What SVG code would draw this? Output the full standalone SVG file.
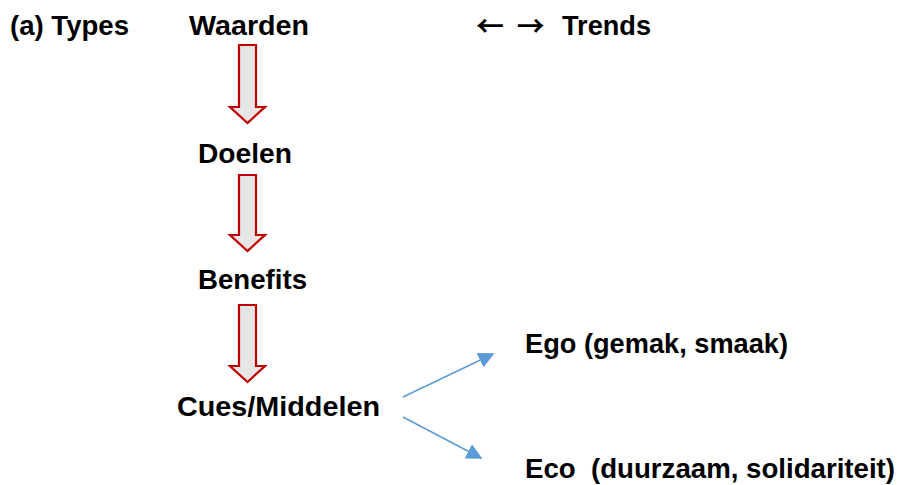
<svg xmlns="http://www.w3.org/2000/svg" width="899" height="485" viewBox="0 0 899 485">
<defs>
<style>
text{font-family:"Liberation Sans",Arial,sans-serif;font-weight:bold;font-size:27px;fill:#000}
text.arr{font-family:"Noto Sans CJK SC",sans-serif;font-size:28px;font-weight:bold}
.bigarrow{fill:#e6e6e6;stroke:#c00000;stroke-width:2.2;stroke-linejoin:miter}
.conn{stroke:#5b9bd5;stroke-width:1.5;fill:none}
</style>
<marker id="ahb" viewBox="0 0 10 10" refX="9" refY="5" markerWidth="16" markerHeight="16" markerUnits="userSpaceOnUse" orient="auto">
<path d="M0,0 L10,5 L0,10 z" fill="#5b9bd5"/>
</marker>
</defs>
<rect width="899" height="485" fill="#fff"/>
<g id="title"><text x="10" y="35" textLength="119" lengthAdjust="spacingAndGlyphs">(a) Types</text></g>
<g id="waarden"><text x="189" y="35" textLength="120" lengthAdjust="spacingAndGlyphs">Waarden</text></g>
<g id="trends"><text class="arr" x="476" y="37" xml:space="preserve">←  →</text><text x="562" y="35" textLength="89" lengthAdjust="spacingAndGlyphs">Trends</text></g>
<g id="doelen"><text x="198" y="163" textLength="94" lengthAdjust="spacingAndGlyphs">Doelen</text></g>
<g id="benefits"><text x="198" y="289" textLength="109" lengthAdjust="spacingAndGlyphs">Benefits</text></g>
<g id="cues"><text x="177" y="416" textLength="203" lengthAdjust="spacingAndGlyphs">Cues/Middelen</text></g>
<g id="ego"><text x="525" y="353" textLength="263" lengthAdjust="spacingAndGlyphs">Ego (gemak, smaak)</text></g>
<g id="eco"><text x="525" y="478" xml:space="preserve" textLength="370" lengthAdjust="spacingAndGlyphs">Eco  (duurzaam, solidariteit)</text></g>
<g id="connectors">
<path class="bigarrow" d="M239,45 H256 V107 H265 L247.5,123 L230,107 H239 Z"/>
<path class="bigarrow" d="M239,175 H256 V235 H265 L247.5,251 L230,235 H239 Z"/>
<path class="bigarrow" d="M239,305 H256 V366 H265 L247.5,382 L230,366 H239 Z"/>
<line class="conn" x1="403" y1="397" x2="493" y2="354" marker-end="url(#ahb)"/>
<line class="conn" x1="403" y1="417" x2="481" y2="458" marker-end="url(#ahb)"/>
</g>
</svg>
